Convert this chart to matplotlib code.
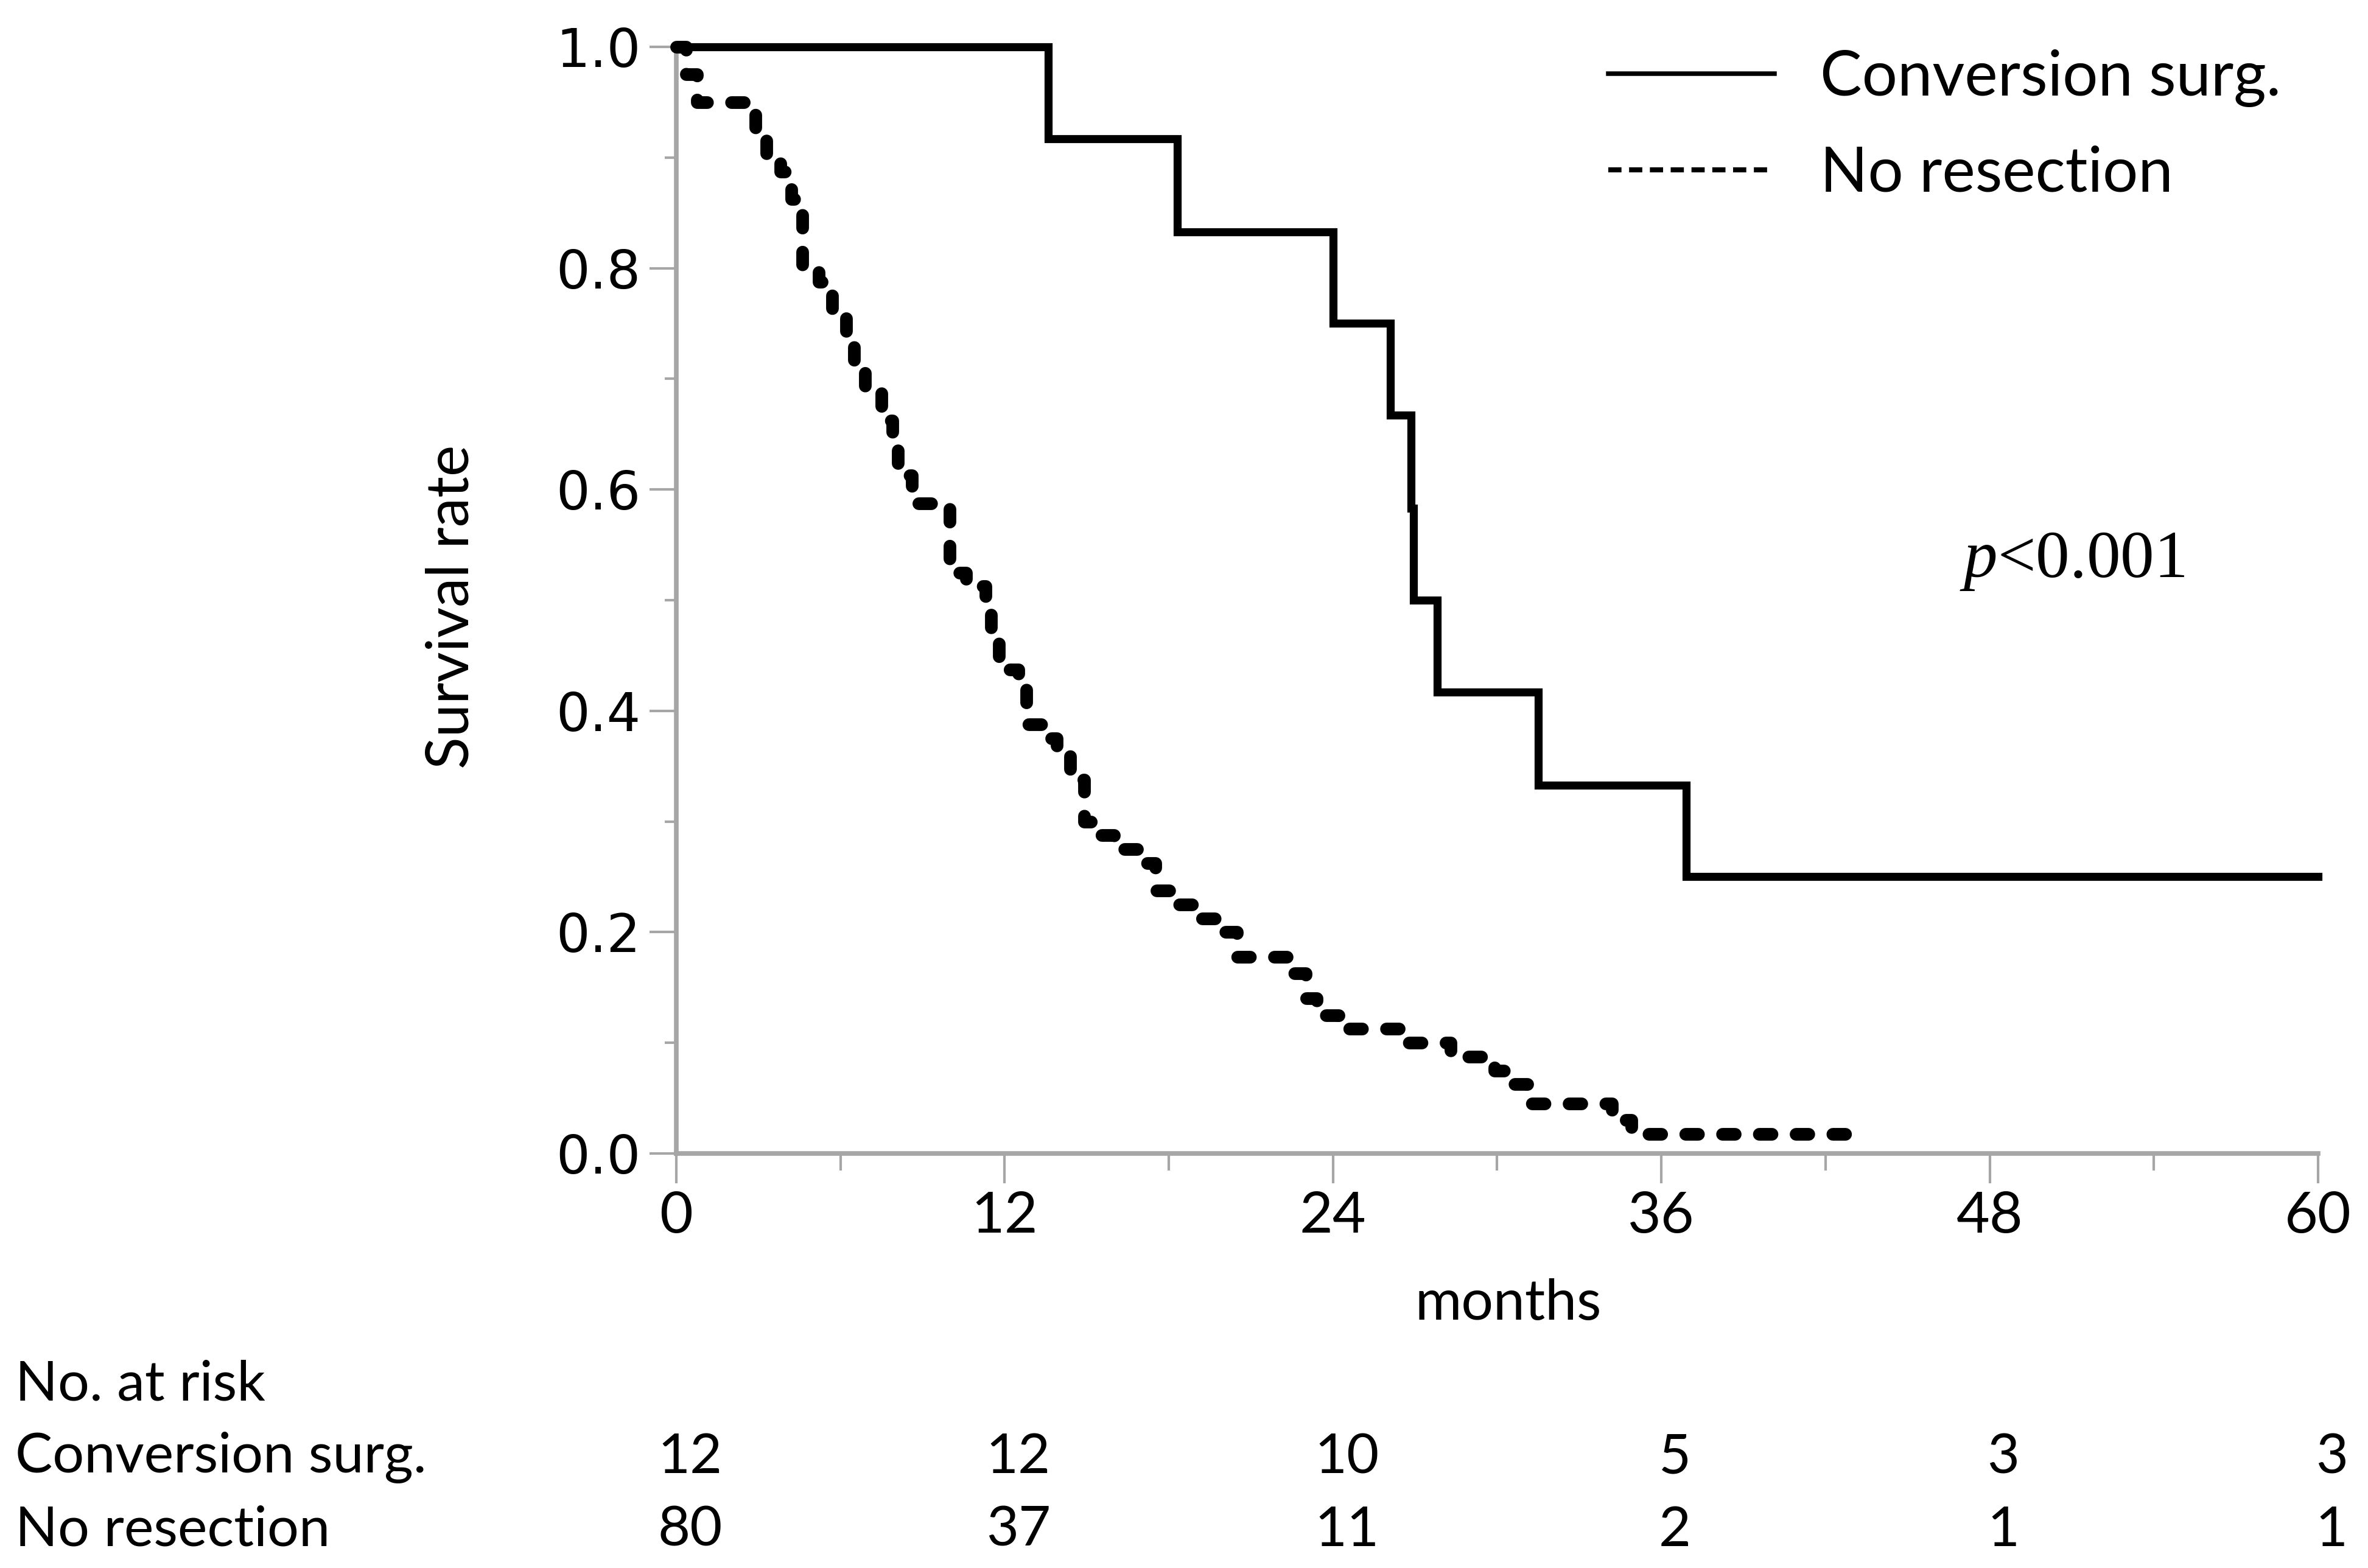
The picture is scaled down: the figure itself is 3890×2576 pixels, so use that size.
import matplotlib
matplotlib.use("Agg")
import matplotlib.pyplot as plt
import matplotlib.transforms as mtransforms
from matplotlib.lines import Line2D
from matplotlib.ticker import MultipleLocator, FormatStrFormatter

# survival curves (months, survival after the step)
conv_t = [0, 13.6, 18.3, 24.0, 26.1, 26.85, 26.95, 27.8, 31.5, 36.9, 60]
conv_s = [1.0, 0.917, 0.833, 0.75, 0.667, 0.583, 0.5, 0.417, 0.333, 0.25, 0.25]

nores_t = [0, 0.35, 0.75, 2.9, 3.3, 3.8, 4.2, 4.6, 5.2, 5.7, 6.2, 6.5, 6.9,
           7.5, 7.9, 8.1, 8.6, 10.0, 10.6, 11.3, 11.5, 11.8, 12.5, 12.8,
           13.4, 13.9, 14.4, 14.9, 15.2, 16.0, 16.9, 17.5, 18.1, 18.9, 20.0,
           20.5, 22.4, 23.0, 23.4, 24.2, 26.5, 28.3, 29.9, 30.5, 31.1, 34.2,
           34.9, 43.5]
nores_s = [1.0, 0.975, 0.95, 0.925, 0.9, 0.8875, 0.8625, 0.8, 0.7875, 0.7625,
           0.7375, 0.7125, 0.6875, 0.6625, 0.65, 0.6125, 0.5875, 0.525,
           0.5125, 0.4875, 0.4625, 0.4375, 0.425, 0.3875, 0.375, 0.3625,
           0.3375, 0.3, 0.2875, 0.275, 0.2625, 0.2375, 0.225, 0.2125, 0.2,
           0.1775, 0.1625, 0.14, 0.125, 0.1125, 0.1, 0.0875, 0.075, 0.0625,
           0.045, 0.03, 0.0175, 0.0175]

risk_times = [0, 12, 24, 36, 48, 60]
risk_conv = [12, 12, 10, 5, 3, 3]
risk_nores = [80, 37, 11, 2, 1, 1]

plt.rcParams['font.family'] = ['Lato', 'DejaVu Sans']
plt.rcParams['mathtext.fontset'] = 'custom'
plt.rcParams['mathtext.it'] = 'Liberation Serif:italic'
plt.rcParams['mathtext.rm'] = 'Liberation Serif'

gray = '#a6a6a6'

fig = plt.figure(figsize=(38.9, 25.76), dpi=100)
ax = fig.add_axes([0.2856, 0.2644, 0.6933, 0.7057])

ax.plot(conv_t, conv_s, color='black', lw=9.5, drawstyle='steps-post',
        solid_joinstyle='miter', clip_on=False, zorder=3)
ax.plot(nores_t, nores_s, color='black', lw=15, drawstyle='steps-post',
        dashes=(1.0, 1.9), dash_capstyle='round', clip_on=False, zorder=3)

ax.set_xlim(0, 60)
ax.set_ylim(0, 1.0)
for s in ['top', 'right']:
    ax.spines[s].set_visible(False)
for s in ['left', 'bottom']:
    ax.spines[s].set_color(gray)
    ax.spines[s].set_linewidth(5.5)

ax.xaxis.set_major_locator(MultipleLocator(12))
ax.xaxis.set_minor_locator(MultipleLocator(6))
ax.yaxis.set_major_locator(MultipleLocator(0.2))
ax.yaxis.set_minor_locator(MultipleLocator(0.1))
ax.yaxis.set_major_formatter(FormatStrFormatter('%.1f'))

ax.tick_params(axis='x', which='major', length=35, width=3, color=gray,
               pad=10, labelsize=68)
ax.tick_params(axis='x', which='minor', length=20, width=3, color=gray)
ax.tick_params(axis='y', which='major', length=32, width=3, color=gray,
               pad=10, labelsize=63)
ax.tick_params(axis='y', which='minor', length=14, width=3, color=gray)
for lab in ax.get_yticklabels():
    lab.set_family('DejaVu Sans')

ax.set_xlabel('months', fontsize=67)
ax.xaxis.set_label_coords(30.4 / 60, -0.113)
fig.text(0.191, 0.613, 'Survival rate', rotation=90, fontsize=70,
         ha='center', va='center')

ax.text(46.9, 0.535, r'$\mathit{p}$<0.001', fontsize=80,
        family='Liberation Serif', ha='left', va='center')

handles = [Line2D([], [], color='black', lw=5.4),
           Line2D([], [], color='black', lw=6, dashes=(2.6, 1.5))]
ax.legend(handles, ['Conversion surg.', 'No resection'], frameon=False,
          loc='upper left', bbox_to_anchor=(2642 / 3890, 0.9686),
          bbox_transform=fig.transFigure, fontsize=74, handlelength=2.66,
          handletextpad=0.73, labelspacing=0.61, borderpad=0, borderaxespad=0)

# number at risk table
trans = mtransforms.blended_transform_factory(ax.transData, fig.transFigure)
fig.text(0.0065, 0.117, 'No. at risk', fontsize=66, va='center', ha='left')
fig.text(0.0065, 0.0703, 'Conversion surg.', fontsize=66, va='center', ha='left')
fig.text(0.0065, 0.024, 'No resection', fontsize=66, va='center', ha='left')
for t, a, b in zip(risk_times, risk_conv, risk_nores):
    ax.text(t + 0.5, 0.0703, str(a), transform=trans, fontsize=66,
            ha='center', va='center')
    ax.text(t + 0.5, 0.024, str(b), transform=trans, fontsize=66,
            ha='center', va='center')

fig.savefig('out.png', dpi=100)
